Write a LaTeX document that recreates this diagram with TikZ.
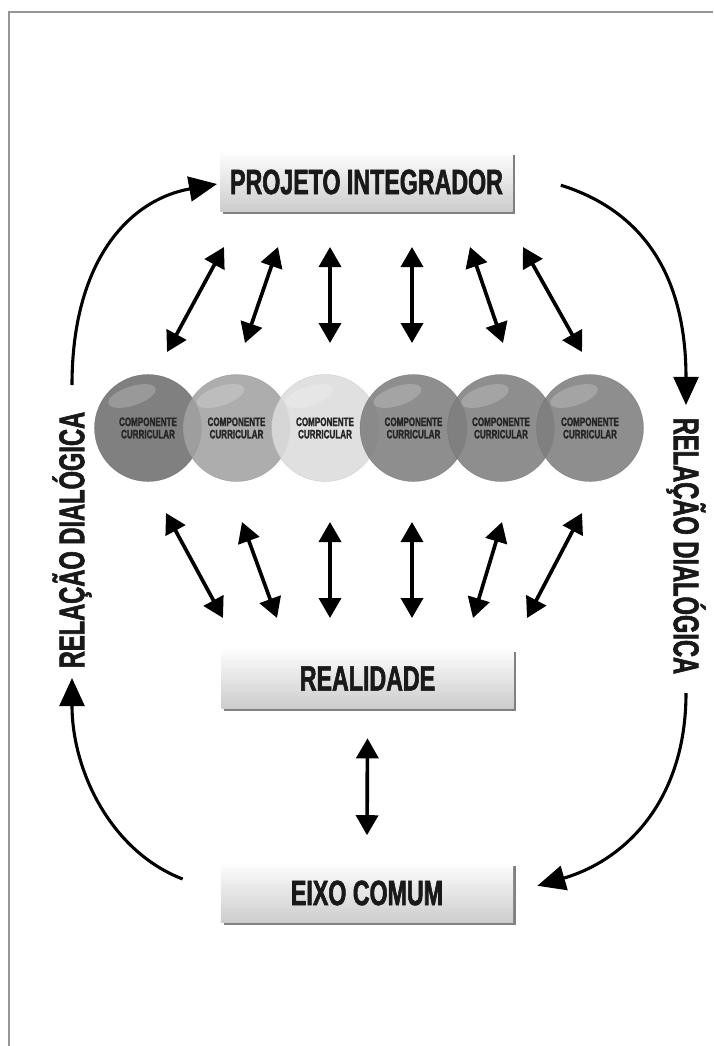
\documentclass[tikz,border=0pt]{standalone}
\usepackage{fontspec}
\newfontfamily\condfont{Liberation Sans}[FakeStretch=0.66,BoldFeatures={FakeBold=1.6}]
\definecolor{ccdark}{RGB}{110,110,110}
\definecolor{ccmid}{RGB}{162,162,162}
\definecolor{cclight}{RGB}{220,220,220}
\definecolor{ccgray}{RGB}{126,126,126}
\definecolor{cctext}{RGB}{38,38,38}
\definecolor{boxtop}{RGB}{253,253,253}
\definecolor{boxbot}{RGB}{204,204,204}
\definecolor{framegray}{RGB}{150,150,150}
\usetikzlibrary{arrows.meta,positioning,shadows,calc}

\tikzset{
  stagebox/.style={rectangle,minimum width=7.3cm,minimum height=1.475cm,
    top color=boxtop,bottom color=boxbot,
    drop shadow={shadow xshift=0.07cm,shadow yshift=-0.07cm,fill=black!55,opacity=0.9},
    text=black!90,font=\condfont\bfseries\fontsize{25}{27}\selectfont},
  comp/.style={circle,minimum size=2.675cm,inner sep=0pt,fill=#1,fill opacity=0.88,
    draw=#1!80!black,draw opacity=0.4,text opacity=1,text=cctext,align=center,
    font=\condfont\bfseries\fontsize{8.7}{8.8}\selectfont},
  dbl/.style={line width=2.6pt,{Triangle[length=0.5cm,width=0.55cm]}-{Triangle[length=0.5cm,width=0.55cm]}},
  curvearrow/.style={line width=2.2pt,-{Triangle[length=0.7cm,width=0.62cm]}},
  sidetext/.style={text=black!90,font=\condfont\bfseries\fontsize{25.5}{27}\selectfont}
}

\begin{document}
\begin{tikzpicture}[x=0.025cm,y=-0.025cm]
  \useasboundingbox (0,0) rectangle (713,1046);
  \draw[framegray,line width=1.2pt] (9,1046) -- (9,12) -- (713,12);

  \node[stagebox] (proj) at (366.5,182) {PROJETO INTEGRADOR};
  \node[stagebox] (real) at (367.5,678.5) {REALIDADE};
  \node[stagebox] (eixo) at (367,893) {EIXO COMUM};

  \node[comp=ccdark]  (c1) at (148,428)   {COMPONENTE\\CURRICULAR};
  \node[comp=ccmid]   (c2) at (236.5,428) {COMPONENTE\\CURRICULAR};
  \node[comp=cclight] (c3) at (325,428)   {COMPONENTE\\CURRICULAR};
  \node[comp=ccgray]  (c4) at (413.5,428) {COMPONENTE\\CURRICULAR};
  \node[comp=ccgray]  (c5) at (501,428)   {COMPONENTE\\CURRICULAR};
  \node[comp=ccgray]  (c6) at (590,428)   {COMPONENTE\\CURRICULAR};
  \foreach \i in {1,...,6}
    \fill[white,opacity=0.2,shift={($(c\i)+(-16,-32)$)},rotate=18] (0,0) ellipse [x radius=0.62cm,y radius=0.24cm];

  \node[sidetext,rotate=90]  (dial1) at (72,540)  {RELAÇÃO DIALÓGICA};
  \node[sidetext,rotate=-90] (dial2) at (686,546) {RELAÇÃO DIALÓGICA};

  \foreach \i/\xa/\ya/\xb/\yb in {1/224/247/167/352, 2/278/247/245/343, 3/330/247/330/343,
      4/412/247/412/343, 5/470/247/503/343, 6/523/247/582/352} {
    \coordinate (pt\i) at (\xa,\ya);
    \coordinate (ct\i) at (\xb,\yb);
    \draw[dbl] (pt\i) -- (ct\i);
  }
  \foreach \i/\xa/\ya/\xb/\yb in {1/166/513/223/618, 2/242/522/277/618, 3/330/522/330/618,
      4/412/522/412/618, 5/502/522/473/618, 6/582/513/527/618} {
    \coordinate (cb\i) at (\xa,\ya);
    \coordinate (rt\i) at (\xb,\yb);
    \draw[dbl] (cb\i) -- (rt\i);
  }
  \draw[dbl] ([yshift=-0.75cm]real.south) -- ([yshift=0.7cm]eixo.north);

  \draw[curvearrow] (72,385) .. controls (72,262) and (128,200) .. ([xshift=-0.08cm,yshift=-0.05cm]proj.west);
  \draw[curvearrow] ([xshift=1.2cm,yshift=-0.08cm]proj.east) .. controls (640,210) and (686,272) .. (686,405);
  \draw[curvearrow] (686,693) .. controls (686,800) and (626,860) .. ([xshift=0.6cm,yshift=0.18cm]eixo.east);
  \draw[curvearrow] ([xshift=-0.95cm,yshift=0.35cm]eixo.west) .. controls (112,852) and (72,772) .. (72,678);
\end{tikzpicture}
\end{document}
